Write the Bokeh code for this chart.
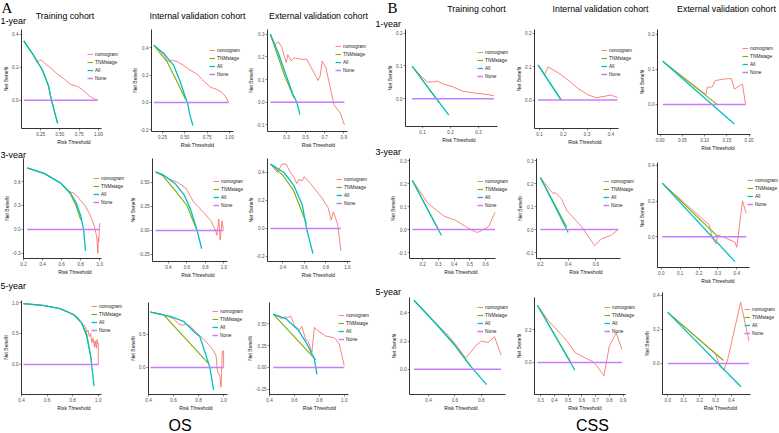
from bokeh.plotting import figure
from bokeh.layouts import row, column
from bokeh.models import Legend, LegendItem, Label, FixedTicker, PrintfTickFormatter, Range1d
from bokeh.embed import file_html
from bokeh.resources import INLINE

# ---------------- data ----------------
SERIES = ["nomogram", "TNMstage", "All", "None"]

# OS 1-year
OS_1Y_TRAIN_NOMOGRAM = [(0.03,0.36),(0.16,0.27),(0.2,0.23),(0.24,0.245),(0.27,0.24),(0.31,0.22),(0.37,0.2),(0.45,0.166),(0.56,0.127),(0.64,0.095),(0.73,0.084),(0.81,0.057),(0.89,0.023),(0.95,0.008),(0.99,0.0)]
OS_1Y_TRAIN_TNM = [(0.03,0.36),(0.16,0.27),(0.27,0.185),(0.35,0.09),(0.39,0.0),(0.43,-0.07),(0.47,-0.14)]
OS_1Y_TRAIN_ALL = [(0.03,0.36),(0.16,0.27),(0.27,0.185),(0.35,0.09),(0.39,0.0),(0.43,-0.07),(0.47,-0.14)]
OS_1Y_TRAIN_NONE = [(0.03,0.0),(0.99,0.0)]
OS_1Y_TRAIN_XTICKS = [0.25,0.5,0.75,1.0]
OS_1Y_TRAIN_YTICKS = [0.0,0.2,0.4]

OS_1Y_INT_NOMOGRAM = [(0.153,0.42),(0.265,0.35),(0.3,0.31),(0.33,0.30),(0.35,0.31),(0.415,0.3),(0.49,0.27),(0.56,0.236),(0.64,0.207),(0.69,0.17),(0.79,0.11),(0.84,0.1),(0.88,0.088),(0.92,0.07),(0.96,0.04),(0.99,0.0)]
OS_1Y_INT_TNM = [(0.153,0.42),(0.3,0.3),(0.415,0.15),(0.51,0.02)]
OS_1Y_INT_ALL = [(0.153,0.42),(0.265,0.36),(0.377,0.27),(0.45,0.15),(0.51,0.03),(0.53,0.0),(0.556,-0.09),(0.59,-0.17)]
OS_1Y_INT_NONE = [(0.153,0.0),(0.99,0.0)]
OS_1Y_INT_XTICKS = [0.25,0.5,0.75,1.0]
OS_1Y_INT_YTICKS = [-0.2,0.0,0.2,0.4]

OS_1Y_EXT_NOMOGRAM = [(0.13,0.3),(0.18,0.253),(0.213,0.267),(0.247,0.246),(0.28,0.197),(0.297,0.175),(0.313,0.21),(0.347,0.183),(0.38,0.196),(0.447,0.19),(0.513,0.189),(0.613,0.11),(0.63,0.096),(0.653,0.117),(0.673,0.182),(0.713,0.153),(0.753,0.074),(0.797,-0.011),(0.863,-0.047),(0.907,-0.1)]
OS_1Y_EXT_TNM = [(0.13,0.3),(0.28,0.117),(0.38,0.017)]
OS_1Y_EXT_ALL = [(0.13,0.3),(0.213,0.217),(0.297,0.117),(0.363,0.039),(0.407,0.0),(0.44,-0.054)]
OS_1Y_EXT_NONE = [(0.13,0.0),(0.907,0.0)]
OS_1Y_EXT_XTICKS = [0.3,0.5,0.7,0.9]
OS_1Y_EXT_YTICKS = [-0.1,0.0,0.1,0.2,0.3]

# CSS 1-year
CSS_1Y_TRAIN_NOMOGRAM = [(0.063,0.099),(0.093,0.07),(0.117,0.051),(0.14,0.051),(0.152,0.054),(0.176,0.044),(0.206,0.037),(0.242,0.023),(0.277,0.018),(0.319,0.014),(0.355,0.009)]
CSS_1Y_TRAIN_TNM = [(0.063,0.099),(0.129,0.023),(0.16,-0.012)]
CSS_1Y_TRAIN_ALL = [(0.063,0.099),(0.129,0.023),(0.194,-0.05)]
CSS_1Y_TRAIN_NONE = [(0.063,0.0),(0.355,0.0)]
CSS_1Y_TRAIN_XTICKS = [0.1,0.2,0.3]
CSS_1Y_TRAIN_YTICKS = [0.0,0.1,0.2]

CSS_1Y_INT_NOMOGRAM = [(0.094,0.105),(0.122,0.077),(0.136,0.099),(0.178,0.082),(0.22,0.06),(0.261,0.035),(0.303,0.016),(0.338,0.007),(0.372,0.011),(0.4,0.015),(0.428,0.008)]
CSS_1Y_INT_TNM = [(0.094,0.105),(0.19,0.0)]
CSS_1Y_INT_ALL = [(0.094,0.105),(0.192,0.0)]
CSS_1Y_INT_NONE = [(0.094,0.0),(0.428,0.0)]
CSS_1Y_INT_XTICKS = [0.1,0.2,0.3,0.4]
CSS_1Y_INT_YTICKS = [0.0,0.1,0.2]

CSS_1Y_EXT_NOMOGRAM = [(0.006,0.123),(0.103,0.028),(0.106,0.049),(0.117,0.05),(0.124,0.068),(0.142,0.072),(0.16,0.074),(0.167,0.044),(0.185,0.058),(0.192,0.0)]
CSS_1Y_EXT_TNM = [(0.006,0.123),(0.128,0.0)]
CSS_1Y_EXT_ALL = [(0.006,0.123),(0.085,0.035),(0.167,-0.056)]
CSS_1Y_EXT_NONE = [(0.006,0.0),(0.192,0.0)]
CSS_1Y_EXT_XTICKS = [0.0,0.05,0.1,0.15,0.2]
CSS_1Y_EXT_YTICKS = [0.0,0.1,0.2]

# OS 3-year
OS_3Y_TRAIN_NOMOGRAM = [(0.24,0.77),(0.42,0.70),(0.59,0.58),(0.69,0.47),(0.72,0.46),(0.76,0.42),(0.8,0.36),(0.85,0.29),(0.89,0.2),(0.92,0.12),(0.94,0.05),(0.96,-0.05),(0.97,-0.12),(0.98,-0.3),(0.985,-0.1),(0.99,-0.15),(0.995,0.0),(1.0,0.08)]
OS_3Y_TRAIN_TNM = [(0.24,0.77),(0.42,0.70),(0.59,0.58),(0.69,0.45),(0.75,0.3),(0.8,0.12)]
OS_3Y_TRAIN_ALL = [(0.24,0.77),(0.42,0.70),(0.59,0.58),(0.69,0.46),(0.75,0.34),(0.8,0.17),(0.83,0.0),(0.85,-0.27)]
OS_3Y_TRAIN_NONE = [(0.24,0.0),(1.0,0.0)]
OS_3Y_TRAIN_XTICKS = [0.2,0.4,0.6,0.8,1.0]
OS_3Y_TRAIN_YTICKS = [-0.3,0.0,0.3,0.6]

OS_3Y_INT_NOMOGRAM = [(0.26,0.61),(0.34,0.58),(0.4,0.54),(0.5,0.5),(0.59,0.44),(0.67,0.3),(0.78,0.19),(0.86,0.1),(0.91,0.0),(0.925,-0.05),(0.945,0.12),(0.96,-0.1),(0.98,0.1),(0.995,0.01)]
OS_3Y_INT_TNM = [(0.26,0.61),(0.34,0.57),(0.47,0.42),(0.6,0.26),(0.7,0.02)]
OS_3Y_INT_ALL = [(0.26,0.61),(0.34,0.58),(0.47,0.49),(0.57,0.37),(0.64,0.22),(0.71,0.0),(0.76,-0.19)]
OS_3Y_INT_NONE = [(0.26,0.0),(0.995,0.0)]
OS_3Y_INT_XTICKS = [0.4,0.6,0.8,1.0]
OS_3Y_INT_YTICKS = [-0.25,0.0,0.25,0.5]

OS_3Y_EXT_NOMOGRAM = [(0.285,0.46),(0.35,0.4),(0.39,0.46),(0.43,0.46),(0.47,0.4),(0.5,0.37),(0.53,0.32),(0.55,0.35),(0.58,0.34),(0.6,0.37),(0.66,0.32),(0.77,0.21),(0.82,0.15),(0.85,0.06),(0.87,0.12),(0.91,0.03),(0.94,-0.16)]
OS_3Y_EXT_TNM = [(0.285,0.46),(0.4,0.38),(0.5,0.27),(0.62,0.035)]
OS_3Y_EXT_ALL = [(0.285,0.46),(0.41,0.4),(0.5,0.31),(0.58,0.17),(0.62,0.0),(0.68,-0.18)]
OS_3Y_EXT_NONE = [(0.285,0.0),(0.94,0.0)]
OS_3Y_EXT_XTICKS = [0.4,0.6,0.8,1.0]
OS_3Y_EXT_YTICKS = [-0.2,0.0,0.2,0.4]

# CSS 3-year
CSS_3Y_TRAIN_NOMOGRAM = [(0.135,0.213),(0.2,0.15),(0.23,0.117),(0.29,0.083),(0.34,0.057),(0.41,0.04),(0.48,0.01),(0.54,-0.012),(0.56,-0.01),(0.62,0.013),(0.66,0.075)]
CSS_3Y_TRAIN_TNM = [(0.135,0.213),(0.3,0.0)]
CSS_3Y_TRAIN_ALL = [(0.135,0.213),(0.32,-0.026)]
CSS_3Y_TRAIN_NONE = [(0.135,0.0),(0.66,0.0)]
CSS_3Y_TRAIN_XTICKS = [0.2,0.3,0.4,0.5,0.6]
CSS_3Y_TRAIN_YTICKS = [-0.1,0.0,0.1,0.2,0.3]

CSS_3Y_INT_NOMOGRAM = [(0.2,0.226),(0.29,0.157),(0.31,0.16),(0.35,0.135),(0.39,0.083),(0.5,0.01),(0.59,-0.07),(0.64,-0.04),(0.71,-0.025),(0.76,0.0)]
CSS_3Y_INT_TNM = [(0.2,0.226),(0.39,0.01)]
CSS_3Y_INT_ALL = [(0.2,0.226),(0.4,-0.013)]
CSS_3Y_INT_NONE = [(0.2,0.0),(0.76,0.0)]
CSS_3Y_INT_XTICKS = [0.2,0.4,0.6]
CSS_3Y_INT_YTICKS = [-0.1,0.0,0.1,0.2,0.3]

CSS_3Y_EXT_NOMOGRAM = [(0.005,0.3),(0.255,0.065),(0.27,-0.01),(0.29,-0.04),(0.3,0.01),(0.39,-0.03),(0.4,-0.06),(0.43,0.2),(0.45,0.13)]
CSS_3Y_EXT_TNM = [(0.005,0.3),(0.3,0.0)]
CSS_3Y_EXT_ALL = [(0.005,0.3),(0.39,-0.14)]
CSS_3Y_EXT_NONE = [(0.005,0.0),(0.45,0.0)]
CSS_3Y_EXT_XTICKS = [0.0,0.1,0.2,0.3,0.4]
CSS_3Y_EXT_YTICKS = [0.0,0.2,0.4]

# OS 5-year
OS_5Y_TRAIN_NOMOGRAM = [(0.415,0.98),(0.57,0.95),(0.7,0.9),(0.77,0.84),(0.8,0.8),(0.84,0.76),(0.87,0.67),(0.9,0.6),(0.91,0.52),(0.92,0.55),(0.93,0.45),(0.94,0.5),(0.95,0.35),(0.96,0.42),(0.97,0.28),(0.975,0.38),(0.985,0.26),(0.99,0.4),(0.995,0.33),(1.0,0.34),(1.0,0.0)]
OS_5Y_TRAIN_TNM = [(0.415,0.98),(0.57,0.95),(0.7,0.9),(0.81,0.8),(0.87,0.67),(0.91,0.45),(0.945,0.08)]
OS_5Y_TRAIN_ALL = [(0.415,0.98),(0.57,0.95),(0.7,0.9),(0.81,0.8),(0.87,0.67),(0.91,0.48),(0.94,0.14),(0.967,-0.35)]
OS_5Y_TRAIN_NONE = [(0.415,0.0),(1.0,0.0)]
OS_5Y_TRAIN_XTICKS = [0.4,0.6,0.8,1.0]
OS_5Y_TRAIN_YTICKS = [0.0,0.5,1.0]

OS_5Y_INT_NOMOGRAM = [(0.415,0.84),(0.52,0.8),(0.6,0.74),(0.64,0.66),(0.67,0.64),(0.7,0.66),(0.74,0.62),(0.78,0.53),(0.83,0.45),(0.88,0.35),(0.92,0.25),(0.94,0.18),(0.95,-0.05),(0.97,-0.13),(0.98,-0.3),(0.99,0.25),(1.0,0.25),(1.0,0.0)]
OS_5Y_INT_TNM = [(0.415,0.84),(0.52,0.8),(0.88,0.06)]
OS_5Y_INT_ALL = [(0.415,0.84),(0.58,0.77),(0.68,0.7),(0.77,0.53),(0.81,0.47),(0.86,0.18),(0.89,0.0),(0.92,-0.34)]
OS_5Y_INT_NONE = [(0.415,0.0),(1.0,0.0)]
OS_5Y_INT_XTICKS = [0.4,0.6,0.8,1.0]
OS_5Y_INT_YTICKS = [0.0,0.5]

OS_5Y_EXT_NOMOGRAM = [(0.43,0.61),(0.5,0.56),(0.52,0.58),(0.55,0.57),(0.57,0.59),(0.6,0.48),(0.64,0.43),(0.66,0.47),(0.69,0.32),(0.71,0.3),(0.74,0.17),(0.76,0.46),(0.78,0.43),(0.85,0.36),(0.92,0.34),(0.96,0.27),(1.0,0.02)]
OS_5Y_EXT_TNM = [(0.43,0.61),(0.77,0.09)]
OS_5Y_EXT_ALL = [(0.43,0.61),(0.53,0.56),(0.63,0.43),(0.7,0.27),(0.76,0.1),(0.78,-0.08)]
OS_5Y_EXT_NONE = [(0.43,0.0),(1.0,0.0)]
OS_5Y_EXT_XTICKS = [0.4,0.6,0.8,1.0]
OS_5Y_EXT_YTICKS = [-0.25,0.0,0.25,0.5]

# CSS 5-year
CSS_5Y_TRAIN_NOMOGRAM = [(0.29,0.49),(0.45,0.33),(0.55,0.24),(0.62,0.16),(0.68,0.08),(0.72,0.12),(0.76,0.17),(0.8,0.2),(0.85,0.19),(0.9,0.23),(0.95,0.1)]
CSS_5Y_TRAIN_TNM = [(0.29,0.49),(0.45,0.33),(0.6,0.17),(0.72,0.02)]
CSS_5Y_TRAIN_ALL = [(0.29,0.49),(0.45,0.33),(0.6,0.17),(0.72,0.02),(0.84,-0.11)]
CSS_5Y_TRAIN_NONE = [(0.29,0.0),(0.95,0.0)]
CSS_5Y_TRAIN_XTICKS = [0.4,0.6,0.8]
CSS_5Y_TRAIN_YTICKS = [-0.2,0.0,0.2,0.4]

CSS_5Y_INT_NOMOGRAM = [(0.276,0.347),(0.36,0.25),(0.46,0.16),(0.5,0.12),(0.55,0.06),(0.69,0.0),(0.76,-0.08),(0.8,0.1),(0.85,0.18),(0.89,0.08)]
CSS_5Y_INT_TNM = [(0.276,0.347),(0.52,0.0)]
CSS_5Y_INT_ALL = [(0.276,0.347),(0.549,-0.047)]
CSS_5Y_INT_NONE = [(0.276,0.0),(0.89,0.0)]
CSS_5Y_INT_XTICKS = [0.3,0.4,0.5,0.6,0.7,0.8,0.9]
CSS_5Y_INT_YTICKS = [-0.2,0.0,0.2]

CSS_5Y_EXT_NOMOGRAM = [(0.0,0.3),(0.3,0.057),(0.33,-0.02),(0.353,-0.04),(0.376,0.02),(0.458,0.36),(0.51,0.133)]
CSS_5Y_EXT_TNM = [(0.0,0.3),(0.35,0.017)]
CSS_5Y_EXT_ALL = [(0.0,0.3),(0.46,-0.137)]
CSS_5Y_EXT_NONE = [(0.0,0.0),(0.51,0.0)]
CSS_5Y_EXT_XTICKS = [0.0,0.1,0.2,0.3,0.4]
CSS_5Y_EXT_YTICKS = [0.0,0.2,0.4]

CURVES = {
    "os_1y_train": (OS_1Y_TRAIN_NOMOGRAM, OS_1Y_TRAIN_TNM, OS_1Y_TRAIN_ALL, OS_1Y_TRAIN_NONE, OS_1Y_TRAIN_XTICKS, OS_1Y_TRAIN_YTICKS),
    "os_1y_int": (OS_1Y_INT_NOMOGRAM, OS_1Y_INT_TNM, OS_1Y_INT_ALL, OS_1Y_INT_NONE, OS_1Y_INT_XTICKS, OS_1Y_INT_YTICKS),
    "os_1y_ext": (OS_1Y_EXT_NOMOGRAM, OS_1Y_EXT_TNM, OS_1Y_EXT_ALL, OS_1Y_EXT_NONE, OS_1Y_EXT_XTICKS, OS_1Y_EXT_YTICKS),
    "css_1y_train": (CSS_1Y_TRAIN_NOMOGRAM, CSS_1Y_TRAIN_TNM, CSS_1Y_TRAIN_ALL, CSS_1Y_TRAIN_NONE, CSS_1Y_TRAIN_XTICKS, CSS_1Y_TRAIN_YTICKS),
    "css_1y_int": (CSS_1Y_INT_NOMOGRAM, CSS_1Y_INT_TNM, CSS_1Y_INT_ALL, CSS_1Y_INT_NONE, CSS_1Y_INT_XTICKS, CSS_1Y_INT_YTICKS),
    "css_1y_ext": (CSS_1Y_EXT_NOMOGRAM, CSS_1Y_EXT_TNM, CSS_1Y_EXT_ALL, CSS_1Y_EXT_NONE, CSS_1Y_EXT_XTICKS, CSS_1Y_EXT_YTICKS),
    "os_3y_train": (OS_3Y_TRAIN_NOMOGRAM, OS_3Y_TRAIN_TNM, OS_3Y_TRAIN_ALL, OS_3Y_TRAIN_NONE, OS_3Y_TRAIN_XTICKS, OS_3Y_TRAIN_YTICKS),
    "os_3y_int": (OS_3Y_INT_NOMOGRAM, OS_3Y_INT_TNM, OS_3Y_INT_ALL, OS_3Y_INT_NONE, OS_3Y_INT_XTICKS, OS_3Y_INT_YTICKS),
    "os_3y_ext": (OS_3Y_EXT_NOMOGRAM, OS_3Y_EXT_TNM, OS_3Y_EXT_ALL, OS_3Y_EXT_NONE, OS_3Y_EXT_XTICKS, OS_3Y_EXT_YTICKS),
    "css_3y_train": (CSS_3Y_TRAIN_NOMOGRAM, CSS_3Y_TRAIN_TNM, CSS_3Y_TRAIN_ALL, CSS_3Y_TRAIN_NONE, CSS_3Y_TRAIN_XTICKS, CSS_3Y_TRAIN_YTICKS),
    "css_3y_int": (CSS_3Y_INT_NOMOGRAM, CSS_3Y_INT_TNM, CSS_3Y_INT_ALL, CSS_3Y_INT_NONE, CSS_3Y_INT_XTICKS, CSS_3Y_INT_YTICKS),
    "css_3y_ext": (CSS_3Y_EXT_NOMOGRAM, CSS_3Y_EXT_TNM, CSS_3Y_EXT_ALL, CSS_3Y_EXT_NONE, CSS_3Y_EXT_XTICKS, CSS_3Y_EXT_YTICKS),
    "os_5y_train": (OS_5Y_TRAIN_NOMOGRAM, OS_5Y_TRAIN_TNM, OS_5Y_TRAIN_ALL, OS_5Y_TRAIN_NONE, OS_5Y_TRAIN_XTICKS, OS_5Y_TRAIN_YTICKS),
    "os_5y_int": (OS_5Y_INT_NOMOGRAM, OS_5Y_INT_TNM, OS_5Y_INT_ALL, OS_5Y_INT_NONE, OS_5Y_INT_XTICKS, OS_5Y_INT_YTICKS),
    "os_5y_ext": (OS_5Y_EXT_NOMOGRAM, OS_5Y_EXT_TNM, OS_5Y_EXT_ALL, OS_5Y_EXT_NONE, OS_5Y_EXT_XTICKS, OS_5Y_EXT_YTICKS),
    "css_5y_train": (CSS_5Y_TRAIN_NOMOGRAM, CSS_5Y_TRAIN_TNM, CSS_5Y_TRAIN_ALL, CSS_5Y_TRAIN_NONE, CSS_5Y_TRAIN_XTICKS, CSS_5Y_TRAIN_YTICKS),
    "css_5y_int": (CSS_5Y_INT_NOMOGRAM, CSS_5Y_INT_TNM, CSS_5Y_INT_ALL, CSS_5Y_INT_NONE, CSS_5Y_INT_XTICKS, CSS_5Y_INT_YTICKS),
    "css_5y_ext": (CSS_5Y_EXT_NOMOGRAM, CSS_5Y_EXT_TNM, CSS_5Y_EXT_ALL, CSS_5Y_EXT_NONE, CSS_5Y_EXT_XTICKS, CSS_5Y_EXT_YTICKS),
}

COHORT_TITLES = ["Training cohort", "Internal validation cohort", "External validation cohort"]
ROW_LABELS = ["1-year", "3-year", "5-year"]
GROUP_LETTERS = ["A", "B"]
GROUP_NAMES = ["OS", "CSS"]

# ---------------- layout (pixel space 779 x 433) ----------------
TOP, BOT = 28, 413
COL_X = [0, 127, 244, 370, 513, 636, 779]

# each column: list of segments (kind, key-or-label, y0, y1, label_y)
COLUMNS = [
    [("panel", "os_1y_train", TOP, 147), ("strip", "3-year", 147, 158, 153), ("panel", "os_3y_train", 158, 277),
     ("strip", "5-year", 277, 300, 285), ("panel", "os_5y_train", 300, BOT)],
    [("panel", "os_1y_int", TOP, 150), ("panel", "os_3y_int", 150, 280), ("panel", "os_5y_int", 280, BOT)],
    [("panel", "os_1y_ext", TOP, 150), ("panel", "os_3y_ext", 150, 280), ("panel", "os_5y_ext", 280, BOT)],
    [("panel", "css_1y_train", TOP, 145), ("strip", "3-year", 145, 158, 151), ("panel", "css_3y_train", 158, 280),
     ("strip", "5-year", 280, 297, 291), ("panel", "css_5y_train", 297, BOT)],
    [("panel", "css_1y_int", TOP, 147), ("panel", "css_3y_int", 147, 280), ("panel", "css_5y_int", 280, BOT)],
    [("panel", "css_1y_ext", TOP, 153), ("panel", "css_3y_ext", 153, 286), ("panel", "css_5y_ext", 286, BOT)],
]
ROW_LABEL_X = [0, None, None, 375, None, None]

# key: (frame L,T,R,B, xlim, ylim, xfmt, yfmt, legend left/top)
PANELS = {
    "os_1y_train":  ((17, 29, 100, 134), (0.0, 1.04), (-0.171, 0.429), "%.2f", "%.1f", (83, 57)),
    "os_1y_int":    ((151, 29, 233, 134), (0.127, 1.045), (-0.214, 0.536), "%.2f", "%.1f", (209, 50)),
    "os_1y_ext":    ((262, 29, 346, 134), (0.1, 0.94), (-0.129, 0.321), "%.1f", "%.1f", (330, 46)),
    "css_1y_train": ((405, 29, 497, 134), (0.039, 0.368), (-0.085, 0.211), "%.1f", "%.1f", (477, 57)),
    "css_1y_int":   ((533, 29, 618, 134), (0.079, 0.433), (-0.085, 0.211), "%.1f", "%.1f", (600, 53)),
    "css_1y_ext":   ((651, 29, 749, 137), (-0.006, 0.204), (-0.086, 0.214), "%.2f", "%.1f", (736, 48)),
    "os_3y_train":  ((18, 158, 100, 261), (0.2, 1.02), (-0.365, 0.889), "%.1f", "%.1f", (88, 178)),
    "os_3y_int":    ((146, 158, 226, 261), (0.227, 1.04), (-0.323, 0.75), "%.1f", "%.2f", (207, 178)),
    "os_3y_ext":    ((263, 158, 349, 261), (0.257, 1.027), (-0.236, 0.5), "%.1f", "%.1f", (332, 176)),
    "css_3y_train": ((409, 158, 495, 258), (0.117, 0.663), (-0.126, 0.309), "%.1f", "%.1f", (477, 178)),
    "css_3y_int":   ((533, 158, 620, 258), (0.172, 0.78), (-0.126, 0.309), "%.1f", "%.1f", (600, 178)),
    "css_3y_ext":   ((653, 162, 748, 271), (-0.02, 0.467), (-0.173, 0.416), "%.1f", "%.1f", (743, 181)),
    "os_5y_train":  ((18, 300, 100, 397), (0.4, 1.023), (-0.484, 1.03), "%.1f", "%.1f", (88, 306)),
    "os_5y_int":    ((143, 302, 226, 397), (0.4, 1.03), (-0.41, 0.985), "%.1f", "%.1f", (207, 311)),
    "os_5y_ext":    ((262, 302, 346, 397), (0.4, 1.03), (-0.31, 0.744), "%.1f", "%.2f", (331, 315)),
    "css_5y_train": ((409, 297, 505, 397), (0.256, 0.983), (-0.18, 0.51), "%.1f", "%.1f", (477, 307)),
    "css_5y_int":   ((530, 297, 625, 397), (0.255, 0.92), (-0.194, 0.394), "%.1f", "%.1f", (600, 307)),
    "css_5y_ext":   ((662, 292, 750, 397), (-0.033, 0.52), (-0.183, 0.417), "%.1f", "%.1f", (744, 309)),
}

COLORS = {"nomogram": "#F8766D", "TNMstage": "#7CAE00", "All": "#00BFC4", "None": "#C77CFF"}
WIDTHS = {"nomogram": 0.9, "TNMstage": 1.1, "All": 1.3, "None": 1.5}
FONT = "Liberation Sans"


def no_align(p):
    try:
        p.frame_align = False
    except Exception:
        pass


def style_axis(ax, ticks, fmt, label, bounds):
    ax.ticker = FixedTicker(ticks=ticks)
    ax.formatter = PrintfTickFormatter(format=fmt)
    ax.bounds = bounds
    ax.axis_line_color = "black"
    ax.axis_line_width = 0.8
    ax.major_tick_line_color = "#333333"
    ax.major_tick_line_width = 0.6
    ax.major_tick_out = 2
    ax.major_tick_in = 0
    ax.minor_tick_line_color = None
    ax.major_label_text_font = FONT
    ax.major_label_text_font_size = "4.6px"
    ax.major_label_text_color = "#4D4D4D"
    ax.major_label_standoff = 1
    ax.axis_label = label
    ax.axis_label_text_font = FONT
    ax.axis_label_text_font_size = "5px"
    ax.axis_label_text_font_style = "normal"
    ax.axis_label_text_color = "#111111"
    ax.axis_label_standoff = 0


def build_panel(col, key, y0, y1):
    frame, xlim, ylim, xfmt, yfmt, leg = PANELS[key]
    L, T, R, B = frame
    fl, fr = COL_X[col], COL_X[col + 1]
    # the plotting frame is widened to the column edge so the legend fits inside it;
    # the x axis itself is bounded to the panel's own range
    R_ext = fr - 1
    ppu = (R - L) / (xlim[1] - xlim[0])
    x_end = xlim[1] + (R_ext - R) / ppu
    p = figure(width=fr - fl, height=y1 - y0,
               x_range=Range1d(xlim[0], x_end), y_range=Range1d(*ylim),
               output_backend="svg", toolbar_location=None,
               min_border_left=L - fl, min_border_right=fr - R_ext,
               min_border_top=max(T - y0, 0), min_border_bottom=y1 - B)
    no_align(p)
    p.xgrid.visible = False
    p.ygrid.visible = False
    p.outline_line_color = None
    nomo, tnm, allc, none, xticks, yticks = CURVES[key]
    style_axis(p.xaxis[0], xticks, xfmt, "Risk Threshold", (xlim[0], xlim[1]))
    style_axis(p.yaxis[0], yticks, yfmt, "Net Benefit", "auto")
    items = []
    for name, pts in zip(SERIES, (nomo, tnm, allc, none)):
        r = p.line([a for a, b in pts], [b for a, b in pts],
                   line_color=COLORS[name], line_width=WIDTHS[name])
        items.append(LegendItem(label=name, renderers=[r]))
    lh, sp = 6, 2
    leg_h = 4 * lh + 3 * sp
    lx = leg[0] - L
    ly = (B - leg[1]) - leg_h
    legend = Legend(items=items, location=(lx, ly), orientation="vertical",
                    label_text_font=FONT, label_text_font_size="4.8px", label_text_color="#222222",
                    glyph_width=6, glyph_height=lh, label_height=lh, spacing=sp,
                    padding=0, margin=0, label_standoff=2,
                    border_line_color=None, background_fill_alpha=0)
    p.add_layout(legend)
    return p


def strip(x0, x1, y0, y1):
    p = figure(width=x1 - x0, height=y1 - y0, x_range=Range1d(x0, x1), y_range=Range1d(y1, y0),
               output_backend="svg", toolbar_location=None, min_border=0)
    no_align(p)
    p.axis.visible = False
    p.xgrid.visible = False
    p.ygrid.visible = False
    p.outline_line_color = None
    return p


top = strip(0, 779, 0, TOP)
for txt, x, y in zip(GROUP_LETTERS, [1, 387], [7.5, 7.5]):
    top.add_layout(Label(x=x, y=y, text=txt, text_font="Liberation Serif", text_font_size="15px",
                         text_baseline="middle", text_align="left", text_color="black"))
for txt, x, y in zip(COHORT_TITLES * 2, [64.5, 197, 318, 476, 600, 726], [15.5, 15, 15, 8.5, 8.5, 8.5]):
    top.add_layout(Label(x=x, y=y, text=txt, text_font=FONT, text_font_size="8.8px",
                         text_baseline="middle", text_align="center", text_color="black"))
for x, y in zip([0, 375], [20.5, 23.5]):
    top.add_layout(Label(x=x, y=y, text=ROW_LABELS[0], text_font=FONT, text_font_size="9px",
                         text_baseline="middle", text_align="left", text_color="black"))

bottom = strip(0, 779, BOT, 433)
for txt, x in zip(GROUP_NAMES, [179.5, 592]):
    bottom.add_layout(Label(x=x, y=433, text=txt, text_font=FONT, text_font_size="16px",
                            text_baseline="bottom", text_align="center", text_color="black"))

cols = []
for c, segs in enumerate(COLUMNS):
    children = []
    for seg in segs:
        if seg[0] == "panel":
            children.append(build_panel(c, seg[1], seg[2], seg[3]))
        else:
            s = strip(COL_X[c], COL_X[c + 1], seg[2], seg[3])
            s.add_layout(Label(x=ROW_LABEL_X[c], y=seg[4], text=seg[1], text_font=FONT,
                               text_font_size="9px", text_baseline="middle", text_align="left",
                               text_color="black"))
            children.append(s)
    cols.append(column(*children, spacing=0))

layout = column(top, row(*cols, spacing=0), bottom, spacing=0)

open("out.html", "w").write(file_html(layout, INLINE))
